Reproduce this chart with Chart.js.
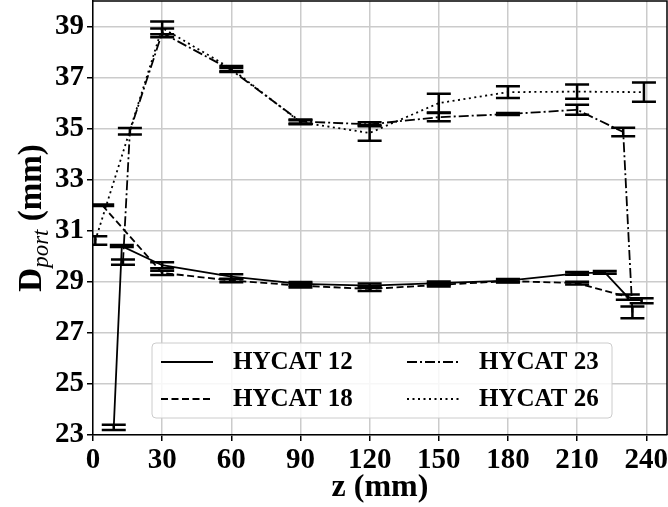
<!DOCTYPE html>
<html>
<head>
<meta charset="utf-8">
<script src="https://cdn.jsdelivr.net/npm/chart.js@4.4.0/dist/chart.umd.min.js"></script>
<style>
  body { margin: 0; background: #fff; }
  #wrap { width: 668px; height: 507px; }
</style>
</head>
<body>
<div id="wrap"><canvas id="chart"></canvas></div>
<script>
// series: z position (mm), port diameter (mm), error half-width (mm)
const seriesNames = ['HYCAT 12', 'HYCAT 18', 'HYCAT 23', 'HYCAT 26'];

const z12 = [9, 12.5, 30, 60, 90, 120, 150, 180, 210, 222, 232];
const d12 = [23.3, 30.4, 29.65, 29.2, 28.92, 28.85, 28.95, 29.05, 29.33, 29.37, 28.4];
const e12 = [0.1, 0.04, 0.12, 0.1, 0.07, 0.08, 0.06, 0.06, 0.05, 0.05, 0.1];

const z18 = [4, 30, 60, 90, 120, 150, 180, 210, 238];
const d18 = [32.0, 29.35, 29.05, 28.85, 28.72, 28.88, 29.03, 28.95, 28.26];
const e18 = [0.03, 0.08, 0.07, 0.07, 0.08, 0.06, 0.06, 0.05, 0.1];

const z23 = [13, 16, 30, 60, 90, 120, 150, 180, 210, 230, 234];
const d23 = [29.77, 34.9, 38.75, 37.3, 35.28, 35.17, 35.45, 35.57, 35.74, 34.87, 27.8];
const e23 = [0.1, 0.13, 0.17, 0.08, 0.08, 0.08, 0.16, 0.04, 0.2, 0.17, 0.23];

const z26 = [1, 30, 60, 90, 120, 150, 180, 210, 239];
const d26 = [30.62, 38.95, 37.35, 35.25, 34.83, 36.0, 36.43, 36.45, 36.43];
const e26 = [0.17, 0.25, 0.1, 0.08, 0.3, 0.37, 0.23, 0.28, 0.38];

const xTicks = [0, 30, 60, 90, 120, 150, 180, 210, 240];
const yTicks = [23, 25, 27, 29, 31, 33, 35, 37, 39];

const serif = '"Liberation Serif", "Times New Roman", serif';
Chart.defaults.font.family = serif;
Chart.defaults.color = '#000';

function makeSet(label, zs, ds, es, dash) {
  return {
    label: label,
    data: zs.map((z, i) => ({ x: z, y: ds[i] })),
    errors: es,
    borderColor: '#000',
    borderWidth: 1.8,
    borderDash: dash,
    pointRadius: 0,
    showLine: true,
    fill: false,
    tension: 0
  };
}

const errorBars = {
  id: 'errorBars',
  afterDatasetsDraw(chart) {
    const { ctx, chartArea, scales } = chart;
    ctx.save();
    ctx.beginPath();
    ctx.rect(chartArea.left, chartArea.top, chartArea.width, chartArea.height);
    ctx.clip();
    ctx.strokeStyle = '#000';
    ctx.lineWidth = 2.5;
    ctx.setLineDash([]);
    chart.data.datasets.forEach(ds => {
      ds.data.forEach((p, i) => {
        const px = scales.x.getPixelForValue(p.x);
        const top = scales.y.getPixelForValue(p.y + ds.errors[i]);
        const bot = scales.y.getPixelForValue(p.y - ds.errors[i]);
        ctx.beginPath();
        ctx.moveTo(px, top); ctx.lineTo(px, bot);
        ctx.moveTo(px - 12, top); ctx.lineTo(px + 12, top);
        ctx.moveTo(px - 12, bot); ctx.lineTo(px + 12, bot);
        ctx.stroke();
      });
    });
    ctx.restore();
  }
};

const extras = {
  id: 'extras',
  afterDraw(chart) {
    const { ctx, chartArea } = chart;
    ctx.save();
    // top and right frame
    ctx.strokeStyle = '#000';
    ctx.lineWidth = 1.5;
    ctx.beginPath();
    ctx.moveTo(chartArea.left, chartArea.top);
    ctx.lineTo(chartArea.right, chartArea.top);
    ctx.lineTo(chartArea.right, chartArea.bottom);
    ctx.stroke();

    // legend
    const lx = 152, ly = 343, lw = 460, lh = 75;
    ctx.beginPath();
    ctx.roundRect(lx, ly, lw, lh, 4);
    ctx.fillStyle = 'rgba(255,255,255,0.85)';
    ctx.fill();
    ctx.strokeStyle = '#cccccc';
    ctx.lineWidth = 1;
    ctx.stroke();
    const cols = [161, 407];
    const rows = [362, 399];
    ctx.font = 'bold 25px ' + serif;
    ctx.textBaseline = 'middle';
    ctx.fillStyle = '#000';
    chart.data.datasets.forEach((ds, i) => {
      const cx = cols[Math.floor(i / 2)];
      const cy = rows[i % 2];
      ctx.strokeStyle = '#000';
      ctx.lineWidth = 1.8;
      ctx.setLineDash(ds.borderDash);
      ctx.beginPath();
      ctx.moveTo(cx, cy);
      ctx.lineTo(cx + 52, cy);
      ctx.stroke();
      ctx.setLineDash([]);
      ctx.fillText(ds.label, cx + 72, cy + 1);
    });

    // y-axis title with subscript
    ctx.translate(41, 218);
    ctx.rotate(-Math.PI / 2);
    const parts = [
      ['D', 'bold 33px ' + serif, 0],
      ['port', 'italic 23px ' + serif, 7],
      [' (mm)', 'bold 33px ' + serif, 0]
    ];
    let total = 0;
    parts.forEach(p => { ctx.font = p[1]; total += ctx.measureText(p[0]).width; });
    let pos = -total / 2;
    ctx.textBaseline = 'alphabetic';
    ctx.textAlign = 'left';
    parts.forEach(p => {
      ctx.font = p[1];
      ctx.fillText(p[0], pos, p[2]);
      pos += ctx.measureText(p[0]).width;
    });
    ctx.restore();
  }
};

new Chart(document.getElementById('chart'), {
  type: 'scatter',
  data: {
    datasets: [
      makeSet(seriesNames[0], z12, d12, e12, []),
      makeSet(seriesNames[1], z18, d18, e18, [7, 3.5]),
      makeSet(seriesNames[2], z23, d23, e23, [10, 3, 2, 3]),
      makeSet(seriesNames[3], z26, d26, e26, [2, 3.5])
    ]
  },
  options: {
    responsive: true,
    maintainAspectRatio: false,
    animation: false,
    layout: { padding: { left: 0, top: 1, right: 1, bottom: 0 } },
    plugins: { legend: { display: false }, tooltip: { enabled: false } },
    scales: {
      x: {
        type: 'linear',
        min: 0,
        max: 249,
        afterBuildTicks: s => { s.ticks = xTicks.map(v => ({ value: v })); },
        afterFit: s => { s.height = 72; s.paddingLeft = 0; s.paddingRight = 0; },
        ticks: { font: { size: 29, weight: 'bold' }, padding: 2, maxRotation: 0, autoSkip: false },
        grid: { color: '#cbcbcb', lineWidth: 1.5, tickColor: '#000', tickLength: 6, tickWidth: 1.5 },
        border: { color: '#000', width: 1.5 },
        title: { display: true, text: 'z (mm)', font: { size: 32, weight: 'bold' }, padding: { top: 0, bottom: 0 } }
      },
      y: {
        type: 'linear',
        min: 23,
        max: 40,
        afterBuildTicks: s => { s.ticks = yTicks.map(v => ({ value: v })); },
        afterFit: s => { s.width = 93; s.paddingTop = 0; s.paddingBottom = 0; },
        ticks: { font: { size: 29, weight: 'bold' }, padding: 3, autoSkip: false },
        grid: { color: '#cbcbcb', lineWidth: 1.5, tickColor: '#000', tickLength: 6, tickWidth: 1.5 },
        border: { color: '#000', width: 1.5 }
      }
    }
  },
  plugins: [errorBars, extras]
});
</script>
</body>
</html>
